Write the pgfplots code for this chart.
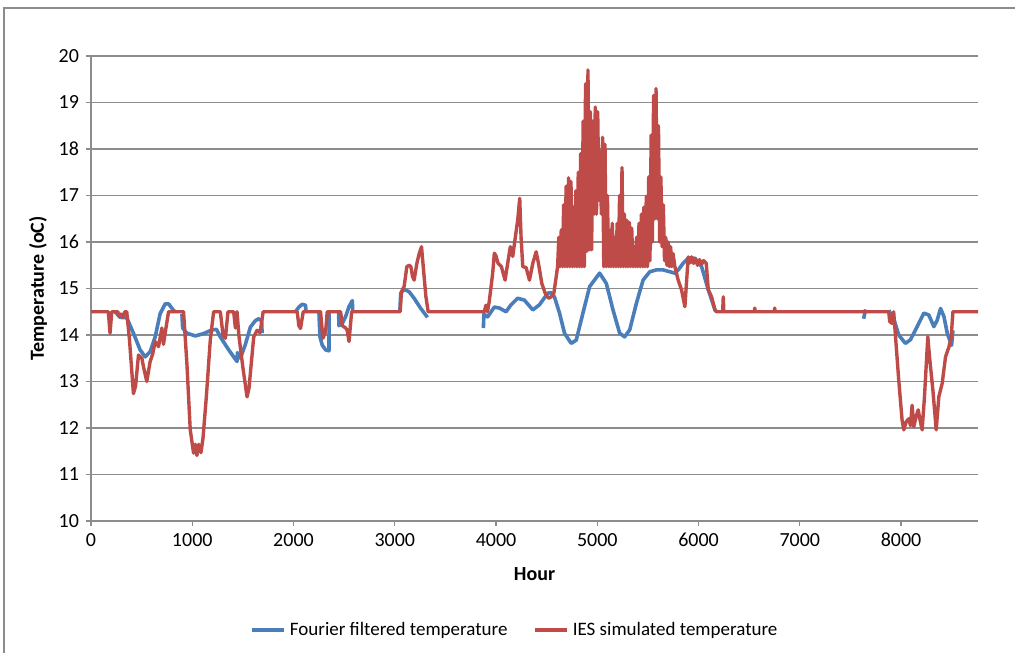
\documentclass[border=0pt]{standalone}
\usepackage{fontspec}
\setmainfont{Carlito}
\usepackage{pgfplots}
\pgfplotsset{compat=1.18}

\definecolor{fourier}{RGB}{74,126,187}
\definecolor{ies}{RGB}{190,75,72}
\definecolor{gridc}{RGB}{140,140,140}

\begin{document}
\begin{tikzpicture}
\begin{axis}[
    width=443.5pt, height=232.5pt, scale only axis,
    xmin=0, xmax=8760,
    ymin=10, ymax=20,
    xtick={0,1000,2000,3000,4000,5000,6000,7000,8000},
    ytick={10,11,12,13,14,15,16,17,18,19,20},
    axis lines*=left,
    axis line style={gridc, line width=0.6pt},
    tick align=outside,
    major tick length=2.5pt,
    tick style={gridc, line width=0.6pt},
    ymajorgrids,
    grid style={gridc, line width=0.6pt},
    /pgf/number format/assume math mode=true,
    /pgf/number format/1000 sep={},
    tick label style={font=\fontsize{10}{12}\selectfont, black},
    xlabel={\textbf{Hour}},
    ylabel={\textbf{Temperature (oC)}},
    label style={font=\fontsize{10}{12}\selectfont},
    xlabel style={at={(axis description cs:0.5,0)}, anchor=center, yshift=-26.5pt},
    ylabel style={at={(axis description cs:0,0.5)}, anchor=center, yshift=26.5pt},
    unbounded coords=jump,
    legend columns=2,
    legend style={at={(axis description cs:0.479,0)}, anchor=center, yshift=-54.5pt,
        draw=none, font=\fontsize{9.5}{12}\selectfont, inner sep=0pt,
        /tikz/every even column/.append style={column sep=11pt}},
    legend image code/.code={\draw[#1] (0pt,0pt) -- (16pt,0pt);},
]
\addplot[fourier, line width=1.8pt, line join=round] table {
238 14.5
287 14.38
353 14.37
419 14.04
485 13.68
535 13.53
584 13.64
634 13.96
683 14.46
733 14.67
766 14.67
815 14.53
832 14.5
nan nan
898 14.45
905 14.15
947 14.04
1030 13.98
1112 14.03
1195 14.11
1240 14.12
1277 13.96
1360 13.68
1442 13.43
1446 13.62
1475 13.5
1525 13.8
1574 14.17
1624 14.31
1657 14.35
1685 14.3
1690 14.04
nan nan
2020 14.5
2053 14.6
2086 14.66
2119 14.64
2122 14.5
nan nan
2251 14.5
2261 13.96
2284 13.78
2317 13.68
2350 13.66
2352 14.5
nan nan
2445 14.5
2449 14.2
2482 14.25
2515 14.4
2548 14.61
2581 14.74
2584 14.5
nan nan
3050 14.5
3059 14.9
3093 14.98
3142 14.93
3191 14.79
3257 14.57
3323 14.38
nan nan
3875 14.15
3880 14.45
3917 14.39
3983 14.6
4033 14.58
4099 14.5
4148 14.65
4214 14.79
4280 14.75
4363 14.54
4429 14.65
4511 14.9
4544 14.91
4577 14.82
4627 14.47
4676 14.04
4742 13.82
4792 13.89
4858 14.47
4924 15.04
5023 15.33
5089 15.11
5155 14.54
5221 14.04
5270 13.96
5320 14.11
5386 14.68
5452 15.18
5518 15.36
5584 15.4
5650 15.4
5716 15.36
5766 15.33
5800 15.4
5850 15.55
5898 15.65
5964 15.65
6030 15.47
6096 14.97
6162 14.54
6178 14.5
nan nan
7630 14.35
7640 14.45
7650 14.55
nan nan
7878 14.53
7927 14.35
7977 14.0
8043 13.82
8093 13.9
8159 14.18
8225 14.47
8274 14.43
8324 14.18
8357 14.32
8390 14.57
8423 14.4
8456 14.04
8499 13.78
8512 14.1
};
\addlegendentry{Fourier filtered temperature}
\addplot[ies, line width=1.7pt, line join=round] table {
0 14.5
171 14.5
188 14.04
205 14.5
265 14.5
275 14.4
295 14.45
310 14.38
335 14.5
353 14.5
380 13.9
419 12.74
440 12.9
469 13.57
502 13.5
520 13.3
551 13.0
584 13.43
610 13.6
634 13.86
667 13.75
700 14.15
716 13.8
733 14.05
766 14.5
914 14.5
947 13.39
980 11.96
1013 11.46
1030 11.65
1046 11.41
1063 11.65
1086 11.47
1106 11.78
1139 12.67
1178 13.89
1211 14.5
1277 14.5
1304 14.0
1327 13.93
1353 14.5
1409 14.5
1426 14.15
1442 14.5
1460 14.0
1500 13.3
1541 12.67
1560 12.85
1607 13.96
1640 14.1
1670 14.05
1700 14.5
2036 14.5
2053 14.2
2069 14.14
2096 14.5
2267 14.5
2290 13.93
2317 14.07
2333 14.5
2465 14.5
2482 14.2
2515 14.15
2530 14.1
2548 13.86
2574 14.5
3053 14.5
3066 14.93
3093 15.05
3119 15.47
3142 15.5
3159 15.47
3175 15.26
3191 15.18
3218 15.54
3241 15.75
3264 15.9
3284 15.4
3307 14.83
3330 14.5
3884 14.5
3900 14.64
3915 14.5
3933 14.72
3967 15.33
3983 15.76
4000 15.7
4020 15.54
4053 15.47
4089 15.18
4115 15.54
4141 15.9
4165 15.69
4191 16.11
4214 16.47
4234 16.94
4247 16.11
4264 15.47
4297 15.45
4330 15.18
4363 15.54
4396 15.79
4419 15.54
4452 15.11
4485 14.9
4518 14.79
4544 14.82
4571 14.9
4594 15.25
4608 15.47
4620 16.1
4632 15.47
4644 16.26
4656 15.47
4668 16.8
4680 15.47
4692 17.2
4704 15.47
4716 17.38
4728 15.47
4740 17.3
4752 15.47
4764 16.75
4776 15.47
4788 17.1
4800 15.47
4812 17.5
4824 15.47
4836 17.9
4848 15.47
4860 18.6
4872 15.47
4884 19.4
4896 15.8
4908 19.7
4920 15.83
4932 18.8
4944 15.83
4956 18.6
4968 16.6
4980 18.9
4992 16.6
5004 18.8
5016 16.9
5028 17.95
5040 16.6
5052 18.25
5064 15.47
5076 18.1
5088 15.47
5100 17.0
5112 15.47
5124 16.25
5136 15.47
5148 16.4
5160 15.47
5172 16.1
5184 15.47
5196 16.4
5208 15.47
5220 17.0
5232 15.47
5244 17.6
5256 15.47
5268 16.6
5280 15.47
5292 16.47
5304 15.47
5316 16.42
5328 15.47
5340 16.3
5352 15.47
5364 15.9
5376 15.47
5388 16.1
5400 15.47
5412 16.4
5424 15.47
5436 16.6
5448 15.47
5460 16.75
5472 15.47
5484 16.98
5496 15.47
5508 17.4
5520 15.6
5532 18.3
5544 16.0
5556 19.15
5568 16.5
5580 19.3
5592 16.5
5604 18.5
5616 16.0
5628 17.4
5640 15.9
5652 16.8
5664 15.6
5676 16.1
5688 15.5
5700 16.0
5712 15.47
5724 15.9
5736 15.47
5748 15.75
5766 15.47
5799 15.18
5832 14.97
5865 14.61
5898 15.68
5914 15.55
5930 15.68
5950 15.54
5970 15.64
5990 15.5
6010 15.62
6030 15.52
6050 15.6
6076 15.54
6096 14.97
6129 14.82
6162 14.54
6178 14.5
6238 14.5
6244 14.82
6250 14.5
6550 14.5
6555 14.58
6560 14.5
6747 14.5
6752 14.58
6757 14.5
7878 14.5
7888 14.29
7911 14.25
7927 14.5
7944 14.0
7977 13.03
8010 12.17
8027 11.96
8050 12.13
8076 12.2
8093 12.05
8109 12.49
8126 12.03
8149 12.25
8169 12.39
8185 12.2
8208 11.96
8231 12.67
8264 13.96
8281 13.53
8314 12.82
8347 11.96
8373 12.67
8406 12.96
8439 13.53
8472 13.74
8495 13.95
8512 14.5
8760 14.5
};
\addlegendentry{IES simulated temperature}
\end{axis}
\draw[gridc, line width=0.75pt] (-43.5pt,-66pt) -- (-43.5pt,256.5pt) -- (463pt,256.5pt);
\pgfresetboundingbox
\path (-45.5pt,-65.5pt) rectangle (462pt,260.5pt);
\end{tikzpicture}
\end{document}
